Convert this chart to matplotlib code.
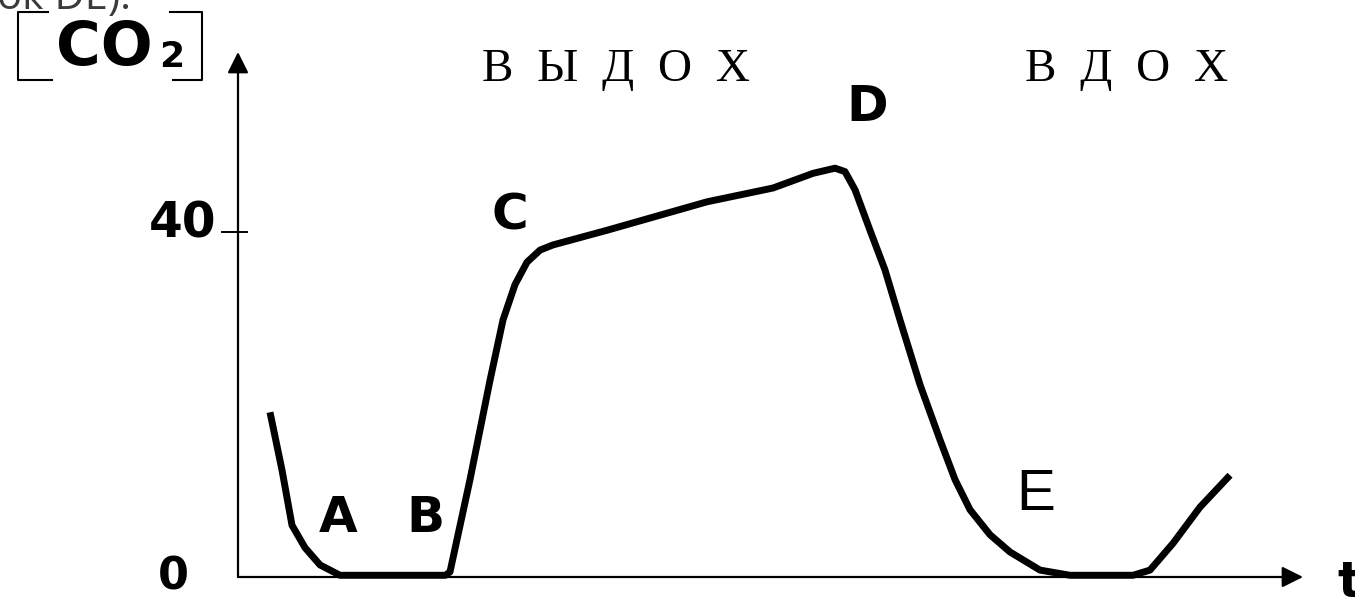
import matplotlib
matplotlib.use("Agg")
import matplotlib.pyplot as plt
from matplotlib.lines import Line2D

# ---- data (time in arbitrary units, CO2 in mmHg) ----
time = [1.28, 1.76, 2.16, 2.68, 3.28, 4.08, 8.3, 8.48, 9.28, 10.08, 10.6, 11.08,
        11.56, 12.08, 12.6, 14.76, 18.76, 21.4, 23.0, 23.88, 24.28, 24.68, 25.28,
        25.88, 26.48, 27.28, 28.08, 28.68, 29.28, 30.08, 30.88, 32.08, 33.28,
        35.8, 36.48, 37.4, 38.48, 39.68]
co2 = [19.1, 12.4, 6.0, 3.4, 1.4, 0.2, 0.2, 0.6, 11.3, 22.8, 29.8, 33.9,
       36.5, 37.9, 38.5, 40.2, 43.5, 45.1, 46.8, 47.4, 47.0, 44.9, 40.2,
       35.6, 29.8, 22.3, 15.9, 11.3, 7.8, 4.9, 2.9, 0.8, 0.2,
       0.2, 0.8, 3.9, 8.1, 11.8]
ytick_values = [0, 40]
ytick_labels = ["0", "40"]
point_labels = ["A", "B", "C", "D", "E"]
phase_labels = ["В  Ы  Д  О  Х", "В  Д  О  Х"]

W, H = 1355, 603
X0, Y0 = 238, 577          # pixel position of origin
SX, SY = 25.0, 8.625       # pixels per unit


def px2x(px):
    return (px - X0) / SX


def py2y(py):
    return (Y0 - py) / SY


fig = plt.figure(figsize=(W / 100, H / 100), dpi=100)
fig.patch.set_facecolor("white")
ax = fig.add_axes([0, 0, 1, 1])
ax.set_xlim(px2x(0), px2x(W))
ax.set_ylim(py2y(H), py2y(0))
ax.axis("off")

# axes with arrows
ax.annotate("", xy=(px2x(1303), 0), xytext=(0, 0),
            arrowprops=dict(arrowstyle="-|>", lw=1.6, color="black",
                            mutation_scale=32, shrinkA=0, shrinkB=0))
ax.annotate("", xy=(0, py2y(52)), xytext=(0, 0),
            arrowprops=dict(arrowstyle="-|>", lw=1.6, color="black",
                            mutation_scale=32, shrinkA=0, shrinkB=0))

# tick at 40
ax.plot([px2x(222), px2x(247)], [40, 40], color="black", lw=1.4)

# curve
ax.plot(time, co2, color="black", lw=5, solid_joinstyle="round",
        solid_capstyle="butt")

bold = dict(family="DejaVu Sans", fontweight="bold", color="black")

# y labels
ax.text(px2x(173), ytick_values[0], ytick_labels[0], ha="center", va="center",
        fontsize=32, **bold)
ax.text(px2x(183), py2y(224), ytick_labels[1], ha="center", va="center",
        fontsize=35, **bold)

# point labels
label_pos = [(338, 518), (425, 518), (510, 216), (867, 107), (1036, 495)]
for lab, (px, py) in zip(point_labels, label_pos):
    kw = dict(bold)
    size = 36
    if lab == "E":
        kw["fontweight"] = "normal"
        kw["family"] = "Liberation Sans"
        size = 42
    ax.text(px2x(px), py2y(py), lab, ha="center", va="center",
            fontsize=size, **kw)

# phase labels
ax.text(px2x(616), py2y(70), phase_labels[0], ha="center", va="center",
        fontsize=34, family="Liberation Serif", color="black")
ax.text(px2x(1127), py2y(70), phase_labels[1], ha="center", va="center",
        fontsize=34, family="Liberation Serif", color="black")

# t label (clipped at right edge)
ax.text(px2x(1337), py2y(583), "t", ha="left", va="center", fontsize=36,
        **bold)

# [CO2] label
ax.text(px2x(104), py2y(49), "CO", ha="center", va="center", fontsize=44,
        **bold)
ax.text(px2x(172), py2y(57), "2", ha="center", va="center", fontsize=26,
        **bold)


def figline(xs, ys):
    fig.add_artist(Line2D([x / W for x in xs], [1 - y / H for y in ys],
                          color="black", lw=1.5, transform=fig.transFigure))


figline([48, 18, 18, 52], [12, 12, 80, 80])
figline([170, 202, 202, 173], [12, 12, 80, 80])

# clipped fragment of surrounding text at the top-left
fig.text(-3 / W, 1 - 9 / H, "ок DE).", ha="left", va="baseline",
         fontsize=30, family="Open Sans", color="#3a3a3a")

fig.savefig("out.png", dpi=100, facecolor="white")
